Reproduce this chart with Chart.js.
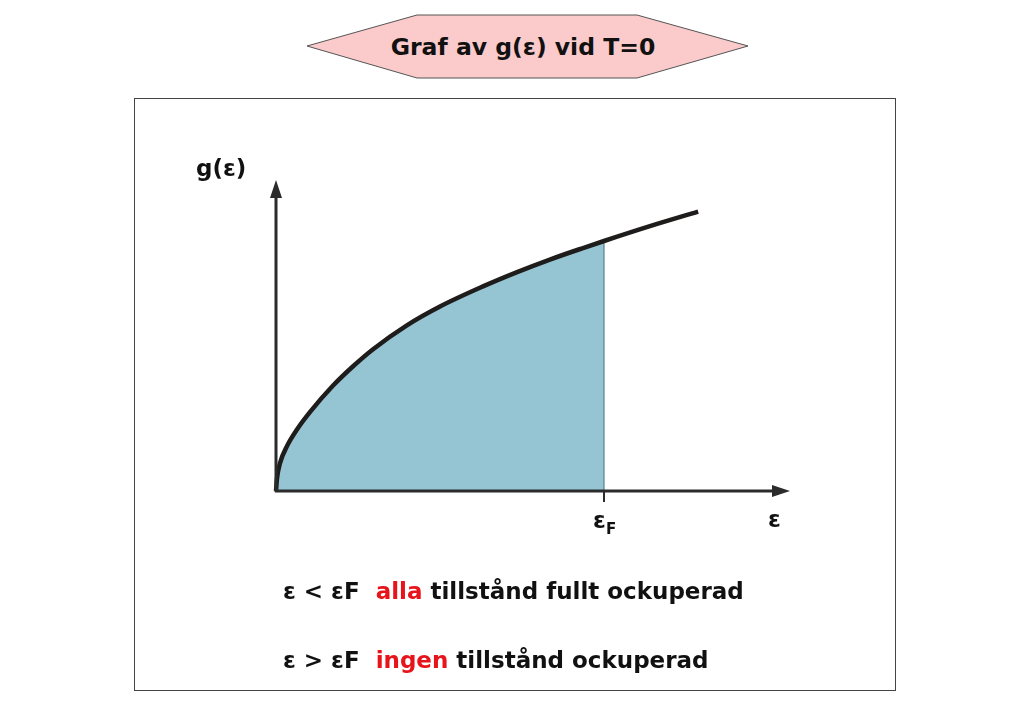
<!DOCTYPE html>
<html>
<head>
<meta charset="utf-8">
<script src="https://cdn.jsdelivr.net/npm/chart.js@4.4.1/dist/chart.umd.min.js"></script>
<style>
    body { margin: 0; background: #fff; font-family: "DejaVu Sans", sans-serif; }
    #page { position: relative; width: 1023px; height: 708px; overflow: hidden; }
    #frame { position: absolute; left: 134px; top: 98px; width: 762px; height: 593px; border: 1px solid #444; box-sizing: border-box; }
    #chart { position: absolute; left: 0; top: 0; }
    #title { position: absolute; left: 0; top: 0; }
    .line { position: absolute; left: 283px; font-weight: bold; font-size: 23px; color: #111; white-space: pre; }
    .red { color: #e8141c; }
</style>
</head>
<body>
<div id="page">
    <div id="frame"></div>
    <svg id="title" width="1023" height="100">
        <polygon points="307,46 417,15 637,15 748,46 637,78 417,78" fill="#fbcaca" stroke="#555" stroke-width="1"/>
        <text x="523" y="55" text-anchor="middle" font-family="DejaVu Sans" font-weight="bold" font-size="23.5" fill="#111">Graf av g(ε) vid T=0</text>
    </svg>
    <canvas id="chart" width="1023" height="708"></canvas>
    <div class="line" style="top: 578px;">ε &lt; εF  <span class="red">alla</span> tillstånd fullt ockuperad</div>
    <div class="line" style="top: 647px;">ε &gt; εF  <span class="red">ingen</span> tillstånd ockuperad</div>
</div>
<script>
// g(e), e in units of the Fermi energy
const energy = [0, 0.003, 0.012, 0.034, 0.064, 0.104, 0.174, 0.235, 0.296, 0.399, 0.5, 0.631, 0.735, 0.835, 0.936, 1.0, 1.14, 1.287];
const density = [0, 0.05, 0.11, 0.18, 0.245, 0.315, 0.42, 0.497, 0.565, 0.66, 0.735, 0.815, 0.872, 0.922, 0.968, 0.996, 1.055, 1.113];
const fermiEnergy = 1.0;
const axisMaxX = 1.567; // arrow tips
const axisMaxY = 1.239;

const curvePoints = energy.map((e, i) => ({ x: e, y: density[i] }));
const filledPoints = curvePoints.filter(p => p.x <= fermiEnergy);
const fermiEdge = [{ x: fermiEnergy, y: 0 }, { x: fermiEnergy, y: density[energy.indexOf(fermiEnergy)] }];

// Axes with arrows, the eF tick and axis labels
const axesPlugin = {
    id: 'axesArrows',
    afterDatasetsDraw: (chart) => {
        const { ctx, scales: { x, y } } = chart;
        const x0 = x.getPixelForValue(0), y0 = y.getPixelForValue(0);
        const xEnd = x.getPixelForValue(axisMaxX), yEnd = y.getPixelForValue(axisMaxY);
        const xF = x.getPixelForValue(fermiEnergy);

        ctx.save();
        ctx.strokeStyle = '#2b2b2b';
        ctx.fillStyle = '#2b2b2b';
        ctx.lineWidth = 3;

        ctx.beginPath();
        ctx.moveTo(x0 - 1, y0);
        ctx.lineTo(xEnd - 14, y0);
        ctx.moveTo(x0, y0 + 1);
        ctx.lineTo(x0, yEnd + 14);
        ctx.stroke();

        // arrow heads
        ctx.beginPath();
        ctx.moveTo(xEnd, y0);
        ctx.lineTo(xEnd - 18, y0 - 6);
        ctx.lineTo(xEnd - 18, y0 + 6);
        ctx.closePath();
        ctx.fill();
        ctx.beginPath();
        ctx.moveTo(x0, yEnd);
        ctx.lineTo(x0 - 6, yEnd + 18);
        ctx.lineTo(x0 + 6, yEnd + 18);
        ctx.closePath();
        ctx.fill();

        // tick at eF
        ctx.lineWidth = 2;
        ctx.beginPath();
        ctx.moveTo(xF, y0);
        ctx.lineTo(xF, y0 + 11);
        ctx.stroke();

        ctx.fillStyle = '#111';
        ctx.textBaseline = 'alphabetic';
        ctx.font = 'bold 23px "DejaVu Sans"';
        ctx.textAlign = 'left';
        ctx.fillText('g(ε)', x0 - 80, yEnd - 4);
        ctx.fillText('ε', x0 + 492, y0 + 36);
        ctx.fillText('ε', xF - 11, y0 + 37);
        ctx.font = 'bold 15px "DejaVu Sans"';
        ctx.fillText('F', xF + 2, y0 + 43);
        ctx.restore();
    }
};

// dataset 0 is drawn last, so the curve goes first
new Chart(document.getElementById('chart').getContext('2d'), {
    type: 'line',
    data: {
        datasets: [
            {
                label: 'g',
                data: curvePoints,
                borderColor: '#1f1c1c',
                borderWidth: 4.5,
                fill: false,
                pointRadius: 0,
                cubicInterpolationMode: 'monotone',
                borderCapStyle: 'butt'
            },
            {
                label: 'edge',
                data: fermiEdge,
                borderColor: '#3f6f7c',
                borderWidth: 1,
                fill: false,
                pointRadius: 0
            },
            {
                label: 'occupied',
                data: filledPoints,
                borderWidth: 0,
                borderColor: 'rgba(0,0,0,0)',
                backgroundColor: '#95c4d3',
                fill: 'origin',
                pointRadius: 0,
                cubicInterpolationMode: 'monotone'
            }
        ]
    },
    options: {
        responsive: false,
        animation: false,
        clip: false,
        layout: {
            padding: { left: 276, right: 233, top: 180, bottom: 217 }
        },
        plugins: {
            legend: { display: false },
            tooltip: { enabled: false }
        },
        scales: {
            x: { type: 'linear', min: 0, max: axisMaxX, display: false },
            y: { min: 0, max: axisMaxY, display: false }
        }
    },
    plugins: [axesPlugin]
});
</script>
</body>
</html>
